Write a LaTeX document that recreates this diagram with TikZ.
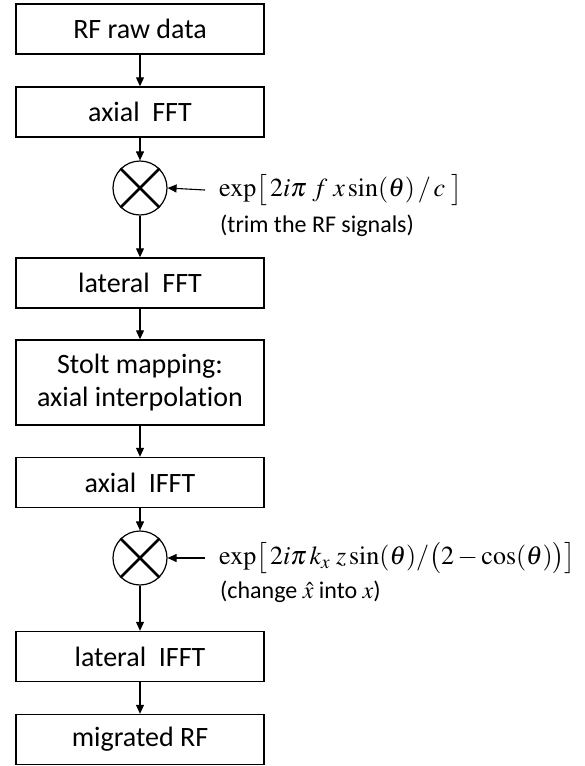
\documentclass[tikz,border=0pt]{standalone}
\usepackage{mathptmx}
\usepackage[no-math]{fontspec}
\setmainfont[Ligatures=NoCommon]{Carlito}
\usetikzlibrary{arrows.meta}
\tikzset{
  stepbox/.style={draw, line width=1.4pt, minimum width=248pt, minimum height=50pt,
    align=center, inner sep=2pt, font=\fontsize{28}{33}\selectfont},
  mixer/.style={draw, line width=1.2pt, circle, minimum size=54pt, inner sep=0pt},
  flow/.style={line width=1.1pt, -{Triangle[length=9pt,width=8pt]}},
  formula/.style={anchor=west, inner xsep=14pt, inner ysep=1pt, font=\fontsize{26}{30}\selectfont},
  remark/.style={anchor=west, inner xsep=0pt, inner ysep=1pt, font=\fontsize{24}{28}\selectfont}
}
\begin{document}
\begin{tikzpicture}[x=1pt,y=-1pt]
\useasboundingbox (0,0) rectangle (584,766);

\node[stepbox] (raw) at (140,29) {RF raw data};
\node[stepbox] (afft) at (140,112) {axial\ \ FFT};
\node[mixer] (m1) at (140,188) {};
\node[stepbox] (lfft) at (140,283) {lateral\ \ FFT};
\node[stepbox, minimum height=85pt] (stolt) at (140,382.5) {Stolt mapping:\\axial interpolation};
\node[stepbox] (aifft) at (140,482.5) {axial\ \ IFFT};
\node[mixer] (m2) at (140,558) {};
\node[stepbox] (lifft) at (140,656.5) {lateral\ \ IFFT};
\node[stepbox] (mig) at (140,739.5) {migrated RF};

% crosses inside the mixers
\foreach \m in {m1,m2}{
  \draw[line width=2.6pt] (\m.north east) -- (\m.south west);
  \draw[line width=2.6pt] (\m.north west) -- (\m.south east);
}

% phase factors
\node[formula] (f1) at (205,190) {$\exp\bigl[\,2i\pi\ f\ x\sin(\theta)\,/\,c\ \bigr]$};
\node[remark] (r1) at (220,226) {(trim the RF signals)};
\node[formula] (f2) at (205,558) {$\exp\bigl[\,2i\pi\,k_x\ z\sin(\theta)/\bigl(2-\cos(\theta)\bigr)\bigr]$};
\node[remark] (r2) at (220,592) {(change $\hat{x}$ into $x$)};

% main chain
\draw[flow] (raw) -- (afft);
\draw[flow] (afft) -- (m1);
\draw[flow] (m1) -- (lfft);
\draw[flow] (lfft) -- (stolt);
\draw[flow] (stolt) -- (aifft);
\draw[flow] (aifft) -- (m2);
\draw[flow] (m2) -- (lifft);
\draw[flow] (lifft) -- (mig);

% factor inputs
\draw[flow] (f1.west) -- (m1.east);
\draw[flow] (f2.west) -- (m2.east);
\end{tikzpicture}
\end{document}
